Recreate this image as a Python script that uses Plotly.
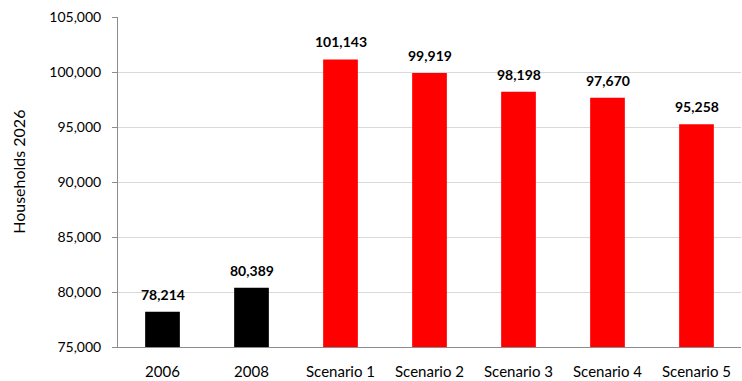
import plotly.graph_objects as go

categories = ["2006", "2008", "Scenario 1", "Scenario 2", "Scenario 3", "Scenario 4", "Scenario 5"]
households = [78214, 80389, 101143, 99919, 98198, 97670, 95258]
bar_colors = ["#000000", "#000000", "#ff0000", "#ff0000", "#ff0000", "#ff0000", "#ff0000"]
y_ticks = [75000, 80000, 85000, 90000, 95000, 100000, 105000]

font_family = "Lato, 'Open Sans', Arial, sans-serif"

fig = go.Figure(
    go.Bar(
        x=categories,
        y=households,
        marker=dict(color=bar_colors, line=dict(width=0)),
        width=0.39,
    )
)

# Value labels sit a little above each bar (category axis addressed by index)
for i, val in enumerate(households):
    fig.add_annotation(
        x=i,
        y=val,
        text=f"<b>{val:,}</b>",
        showarrow=False,
        yanchor="bottom",
        yshift=7,
        font=dict(family=font_family, size=14, color="#000000"),
    )

# Vertical axis title
fig.add_annotation(
    xref="paper",
    yref="paper",
    x=-0.161,
    y=0.53,
    text="Households 2026",
    textangle=-90,
    showarrow=False,
    xanchor="center",
    yanchor="middle",
    font=dict(family=font_family, size=16, color="#000000"),
)

fig.update_layout(
    width=742,
    height=381,
    margin=dict(l=118, r=1, t=17, b=34),
    paper_bgcolor="white",
    plot_bgcolor="white",
    showlegend=False,
    font=dict(family=font_family, size=13, color="#000000"),
    bargap=0.61,
)

fig.update_xaxes(
    type="category",
    categoryorder="array",
    categoryarray=categories,
    range=[-0.5, len(categories) - 0.5],
    showgrid=False,
    showline=True,
    linecolor="#8c8c8c",
    linewidth=1,
    ticks="",
    ticklabelstandoff=11,
    tickfont=dict(size=15),
)

fig.update_yaxes(
    range=[75000, 105000],
    tickvals=y_ticks,
    ticktext=[f"{v:,}" for v in y_ticks],
    showgrid=True,
    gridcolor="#d9d9d9",
    gridwidth=1,
    showline=True,
    linecolor="#8c8c8c",
    linewidth=1,
    ticks="outside",
    ticklen=5,
    tickcolor="#8c8c8c",
    ticklabelstandoff=8,
    tickfont=dict(size=14),
    zeroline=False,
)

fig.write_html("out.html")
